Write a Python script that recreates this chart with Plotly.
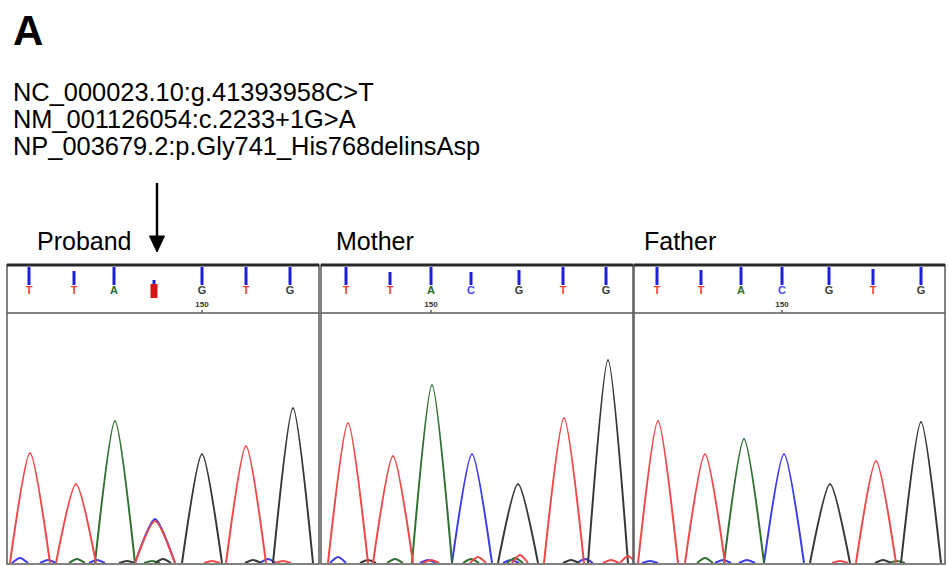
import plotly.graph_objects as go

# ---------------- data ----------------
SAMPLES = ["Proband", "Mother", "Father"]
HEADER_LINES = [
    "NC_000023.10:g.41393958C>T",
    "NM_001126054:c.2233+1G>A",
    "NP_003679.2:p.Gly741_His768delinsAsp",
]
PANEL_LABEL = "A"

# base calls shown in header of each trace window
CALLS_PROBAND = ["T", "T", "A", "Y", "G", "T", "G"]
CALLS_MOTHER = ["T", "T", "A", "C", "G", "T", "G"]
CALLS_FATHER = ["T", "T", "A", "C", "G", "T", "G"]
CALL_POS_PROBAND = [22, 67, 107, 147, 195, 239, 283]
CALL_POS_MOTHER = [25, 69, 110, 150, 198, 242, 285]
CALL_POS_FATHER = [23, 67, 107, 148, 195, 239, 287]
CALL_QV_PROBAND = [18, 14, 18, 5, 18, 18, 18]
CALL_QV_MOTHER = [18, 13, 18, 13, 15, 18, 18]
CALL_QV_FATHER = [18, 15, 18, 18, 18, 16, 18]
BASE150_POS = [195, 110, 148]

# main peaks (scan position, dye, signal)
PEAK_POS_PROBAND = [23, 69, 108, 148, 148, 195, 239, 286]
PEAK_DYE_PROBAND = ["T", "T", "A", "T", "C", "G", "T", "G"]
PEAK_H_PROBAND = [110, 79, 142, 42, 44, 109, 117, 155]
PEAK_POS_MOTHER = [27, 72, 111, 151, 197, 243, 287]
PEAK_DYE_MOTHER = ["T", "T", "A", "C", "G", "T", "G"]
PEAK_H_MOTHER = [140, 107, 178, 109, 79, 145, 203]
PEAK_POS_FATHER = [24, 71, 110, 150, 196, 242, 287]
PEAK_DYE_FATHER = ["T", "T", "A", "C", "G", "T", "G"]
PEAK_H_FATHER = [142, 109, 124, 109, 79, 102, 141]

# small background bumps near baseline
NOISE_POS_PROBAND = [13, 41, 70, 90, 120, 145, 156, 205, 246, 261, 276]
NOISE_DYE_PROBAND = ["C", "C", "A", "C", "G", "A", "G", "T", "G", "C", "T"]
NOISE_H_PROBAND = [5, 3, 4, 3, 2, 2, 4, 2, 3, 4, 2]
NOISE_POS_MOTHER = [17, 47, 74, 107, 110, 150, 157, 190, 194, 199, 250, 264, 290, 307]
NOISE_DYE_MOTHER = ["C", "G", "A", "C", "T", "A", "T", "C", "A", "T", "G", "C", "T", "T"]
NOISE_H_MOTHER = [6, 3, 4, 3, 3, 4, 6, 3, 5, 8, 3, 4, 3, 7]
NOISE_POS_FATHER = [16, 71, 89, 113, 206, 249, 263]
NOISE_DYE_FATHER = ["C", "A", "C", "C", "T", "G", "A"]
NOISE_H_FATHER = [2, 5, 3, 3, 2, 3, 2]

# ---------------- styling ----------------
W, H = 948, 566
FONT = "Liberation Sans, Arial, sans-serif"
DYE_COL = {"T": "rgb(240,72,72)", "A": "rgb(48,112,48)", "C": "rgb(60,60,235)", "G": "rgb(55,55,55)"}
CALL_COL = {"T": "rgb(240,60,50)", "A": "rgb(40,110,40)", "C": "rgb(70,70,255)", "G": "rgb(60,60,60)", "Y": "rgb(120,0,0)"}
PEAK_HALF = 20
NOISE_HALF = 8

def px(x):
    return x / W

def py(y):
    return 1 - y / H

PANEL_X = [(7, 319), (321, 633), (634, 945)]
TOP, HDR_BOT, BOT = 265, 313, 563

calls = [CALLS_PROBAND, CALLS_MOTHER, CALLS_FATHER]
call_pos = [CALL_POS_PROBAND, CALL_POS_MOTHER, CALL_POS_FATHER]
call_qv = [CALL_QV_PROBAND, CALL_QV_MOTHER, CALL_QV_FATHER]
peaks = [
    (PEAK_POS_PROBAND, PEAK_DYE_PROBAND, PEAK_H_PROBAND),
    (PEAK_POS_MOTHER, PEAK_DYE_MOTHER, PEAK_H_MOTHER),
    (PEAK_POS_FATHER, PEAK_DYE_FATHER, PEAK_H_FATHER),
]
noise = [
    (NOISE_POS_PROBAND, NOISE_DYE_PROBAND, NOISE_H_PROBAND),
    (NOISE_POS_MOTHER, NOISE_DYE_MOTHER, NOISE_H_MOTHER),
    (NOISE_POS_FATHER, NOISE_DYE_FATHER, NOISE_H_FATHER),
]

fig = go.Figure()
layout = dict(
    width=W, height=H, margin=dict(l=0, r=0, t=0, b=0),
    paper_bgcolor="white", plot_bgcolor="rgba(0,0,0,0)", showlegend=False,
)
shapes = []
annotations = []

for i in range(3):
    xa = "x" if i == 0 else f"x{i+1}"
    ya = "y" if i == 0 else f"y{i+1}"
    yh = f"y{i+4}"
    x0, x1 = PANEL_X[i]
    xkey = "xaxis" if i == 0 else f"xaxis{i+1}"
    ykey = "yaxis" if i == 0 else f"yaxis{i+1}"
    layout[xkey] = dict(domain=[px(x0), px(x1)], range=[0, x1 - x0], visible=False, anchor=ya, fixedrange=True)
    layout[ykey] = dict(domain=[py(BOT), py(HDR_BOT + 1)], range=[0, BOT - HDR_BOT - 1], visible=False,
                        anchor=xa, fixedrange=True)
    layout[f"yaxis{i+4}"] = dict(domain=[py(HDR_BOT), py(TOP)], range=[0, HDR_BOT - TOP], visible=False,
                                 anchor=xa, fixedrange=True)

    # chromatogram traces, one per dye
    for dye in ["C", "A", "G", "T"]:
        xs, ys = [], []
        for src, half in ((noise[i], NOISE_HALF), (peaks[i], PEAK_HALF)):
            for p, d, h in zip(*src):
                if d == dye:
                    xs += [p - half, p, p + half, None]
                    ys += [0, h, 0, None]
        fig.add_trace(go.Scatter(
            x=xs, y=ys, xaxis=xa, yaxis=ya, mode="lines",
            line=dict(color=DYE_COL[dye], width=2, shape="spline", smoothing=0.7),
            hoverinfo="skip", connectgaps=False,
        ))

    # header: quality bars
    bx, by = [], []
    for p, q in zip(call_pos[i], call_qv[i]):
        bx += [p, p, None]
        by += [28, 28 + q, None]
    fig.add_trace(go.Scatter(x=bx, y=by, xaxis=xa, yaxis=yh, mode="lines",
                             line=dict(color="rgb(30,30,225)", width=3), hoverinfo="skip"))
    # header: base letters
    for p, b in zip(call_pos[i], calls[i]):
        if b == "Y":
            shapes.append(dict(type="rect", xref=xa, yref=yh, x0=p - 3.5, x1=p + 3.5, y0=15, y1=29,
                               fillcolor="rgb(215,20,20)", line=dict(width=0), layer="above"))
    fig.add_trace(go.Scatter(
        x=call_pos[i], y=[22] * len(calls[i]), xaxis=xa, yaxis=yh, mode="text",
        text=["<b>" + b + "</b>" for b in calls[i]],
        textfont=dict(family=FONT, size=11, color=[CALL_COL[b] for b in calls[i]]),
        hoverinfo="skip",
    ))
    # header: position 150 marker
    fig.add_trace(go.Scatter(x=[BASE150_POS[i]], y=[8.5], xaxis=xa, yaxis=yh, mode="text",
                             text=["<b>150</b>"], textfont=dict(family=FONT, size=8, color="rgb(50,50,50)"),
                             hoverinfo="skip"))
    fig.add_trace(go.Scatter(x=[BASE150_POS[i], BASE150_POS[i]], y=[0, 3], xaxis=xa, yaxis=yh, mode="lines",
                             line=dict(color="rgb(50,50,50)", width=1.2), hoverinfo="skip"))

    # frames
    shapes.append(dict(type="rect", xref="paper", yref="paper", x0=px(x0), x1=px(x1), y0=py(BOT + 1), y1=py(TOP),
                       line=dict(color="rgb(90,90,90)", width=1.5)))
    shapes.append(dict(type="line", xref="paper", yref="paper", x0=px(x0), x1=px(x1), y0=py(HDR_BOT), y1=py(HDR_BOT),
                       line=dict(color="rgb(90,90,90)", width=1.5)))
    shapes.append(dict(type="line", xref="paper", yref="paper", x0=px(x0), x1=px(x1), y0=py(TOP), y1=py(TOP),
                       line=dict(color="rgb(40,40,40)", width=3)))

    # sample label
    annotations.append(dict(x=px([35, 334, 642][i]), y=py(241), xref="paper", yref="paper",
                            text=SAMPLES[i], showarrow=False, xanchor="left", yanchor="middle",
                            font=dict(family=FONT, size=25, color="black")))

# panel letter and variant description
annotations.append(dict(x=px(11), y=py(30), xref="paper", yref="paper", text="<b>" + PANEL_LABEL + "</b>",
                        showarrow=False, xanchor="left", yanchor="middle",
                        font=dict(family=FONT, size=42, color="black")))
for k, line in enumerate(HEADER_LINES):
    annotations.append(dict(x=px(11), y=py(92 + 27 * k), xref="paper", yref="paper", text=line,
                            showarrow=False, xanchor="left", yanchor="middle",
                            font=dict(family=FONT, size=25.4, color="black")))

# arrow marking the variant
shapes.append(dict(type="line", xref="paper", yref="paper", x0=px(157), x1=px(157), y0=py(183), y1=py(240),
                   line=dict(color="black", width=2.5)))
shapes.append(dict(type="path", xref="paper", yref="paper",
                   path=f"M {px(149.5)},{py(236)} L {px(164.5)},{py(236)} L {px(157)},{py(252)} Z",
                   fillcolor="black", line=dict(color="black", width=1)))

layout["shapes"] = shapes
layout["annotations"] = annotations
fig.update_layout(**layout)
fig.write_html("out.html", config={"displayModeBar": False, "staticPlot": True},
               post_script="document.body.style.margin='0';document.body.style.overflow='hidden';")
